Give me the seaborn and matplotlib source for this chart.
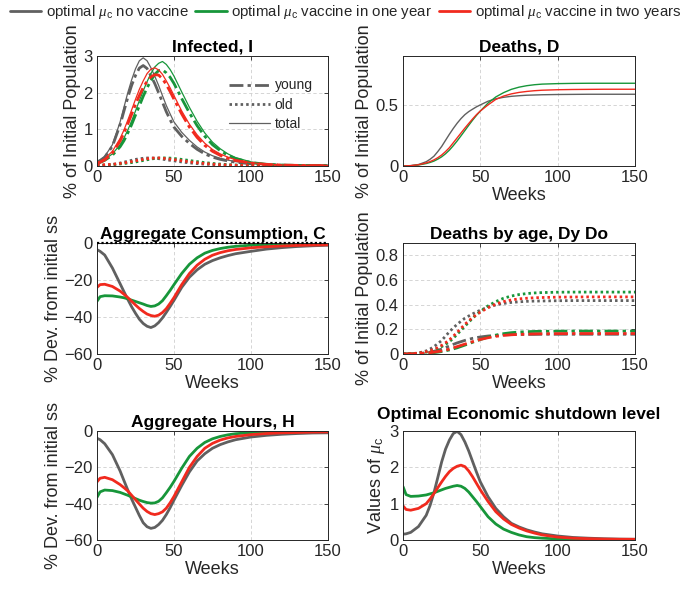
import matplotlib
matplotlib.use("Agg")
import matplotlib.pyplot as plt
import seaborn as sns
from matplotlib.lines import Line2D

# ---------------- data ----------------
WEEKS = [0, 2, 5, 10, 15, 17.5, 20, 22.5, 25, 27.5, 30, 32.5, 35, 37.5, 40, 42.5, 45, 47.5, 50,
         55, 60, 65, 70, 75, 80, 85, 90, 100, 110, 120, 130, 140, 150]

SCENARIOS = ["no vaccine", "vaccine in one year", "vaccine in two years"]

# Infected (% of initial population)
inf_total_none = [0.12, 0.16, 0.26, 0.58, 1.2, 1.6, 2.0, 2.35, 2.65, 2.87, 2.95, 2.87, 2.68, 2.45, 2.2, 1.92,
                  1.65, 1.42, 1.2, 0.92, 0.7, 0.52, 0.38, 0.28, 0.21, 0.16, 0.12, 0.07, 0.04, 0.025, 0.018,
                  0.012, 0.01]
inf_old_none = [0.01, 0.012, 0.02, 0.04, 0.08, 0.105, 0.13, 0.155, 0.18, 0.197, 0.21, 0.218, 0.22, 0.213,
                0.2, 0.186, 0.17, 0.155, 0.14, 0.11, 0.085, 0.065, 0.05, 0.038, 0.029, 0.022, 0.017, 0.01,
                0.006, 0.004, 0.003, 0.002, 0.002]
inf_young_none = [0.11, 0.15, 0.24, 0.54, 1.12, 1.5, 1.87, 2.2, 2.47, 2.67, 2.74, 2.66, 2.46, 2.25, 2.0,
                  1.74, 1.48, 1.26, 1.06, 0.81, 0.615, 0.455, 0.33, 0.242, 0.181, 0.138, 0.103, 0.06, 0.034,
                  0.021, 0.015, 0.01, 0.008]
inf_total_one = [0.1, 0.12, 0.18, 0.33, 0.58, 0.76, 0.98, 1.23, 1.5, 1.78, 2.05, 2.3, 2.52, 2.7, 2.8, 2.85,
                 2.77, 2.63, 2.45, 2.02, 1.6, 1.22, 0.9, 0.65, 0.47, 0.33, 0.23, 0.11, 0.055, 0.03, 0.02,
                 0.014, 0.01]
inf_old_one = [0.02, 0.02, 0.025, 0.035, 0.055, 0.067, 0.08, 0.094, 0.11, 0.13, 0.15, 0.17, 0.19, 0.205,
               0.215, 0.22, 0.22, 0.215, 0.205, 0.18, 0.15, 0.12, 0.093, 0.07, 0.052, 0.038, 0.028, 0.015,
               0.008, 0.005, 0.003, 0.002, 0.002]
inf_young_one = [0.08, 0.1, 0.155, 0.295, 0.525, 0.69, 0.9, 1.13, 1.39, 1.64, 1.9, 2.13, 2.33, 2.5, 2.6,
                 2.62, 2.54, 2.42, 2.25, 1.84, 1.45, 1.1, 0.81, 0.58, 0.42, 0.29, 0.2, 0.095, 0.047, 0.025,
                 0.017, 0.012, 0.008]
inf_total_two = [0.1, 0.13, 0.2, 0.4, 0.75, 0.98, 1.25, 1.53, 1.82, 2.09, 2.32, 2.52, 2.64, 2.68, 2.62, 2.5,
                 2.32, 2.13, 1.92, 1.5, 1.14, 0.85, 0.62, 0.45, 0.33, 0.24, 0.17, 0.09, 0.05, 0.03, 0.02,
                 0.014, 0.01]
inf_old_two = [0.03, 0.03, 0.035, 0.045, 0.07, 0.084, 0.1, 0.12, 0.14, 0.16, 0.18, 0.197, 0.21, 0.218, 0.22,
               0.212, 0.2, 0.188, 0.175, 0.145, 0.115, 0.09, 0.068, 0.05, 0.037, 0.027, 0.02, 0.011, 0.006,
               0.004, 0.003, 0.002, 0.002]
inf_young_two = [0.07, 0.1, 0.165, 0.355, 0.68, 0.9, 1.15, 1.41, 1.68, 1.92, 2.14, 2.31, 2.43, 2.49, 2.48,
                 2.38, 2.22, 2.03, 1.82, 1.42, 1.06, 0.78, 0.56, 0.4, 0.29, 0.21, 0.15, 0.08, 0.044, 0.026,
                 0.017, 0.012, 0.008]

# Deaths (% of initial population)
deaths_none = [0, 0.001, 0.003, 0.012, 0.035, 0.055, 0.08, 0.118, 0.16, 0.21, 0.26, 0.307, 0.35, 0.388,
               0.42, 0.445, 0.465, 0.484, 0.5, 0.53, 0.55, 0.562, 0.57, 0.575, 0.579, 0.581, 0.583, 0.585,
               0.586, 0.587, 0.587, 0.587, 0.587]
deaths_one = [0, 0.001, 0.002, 0.008, 0.02, 0.029, 0.04, 0.056, 0.075, 0.1, 0.13, 0.166, 0.205, 0.247,
              0.29, 0.333, 0.375, 0.414, 0.45, 0.515, 0.565, 0.6, 0.627, 0.645, 0.657, 0.665, 0.67, 0.674,
              0.676, 0.677, 0.677, 0.677, 0.677]
deaths_two = [0, 0.001, 0.003, 0.01, 0.025, 0.036, 0.05, 0.068, 0.09, 0.118, 0.15, 0.19, 0.23, 0.27, 0.31,
              0.348, 0.385, 0.42, 0.45, 0.5, 0.545, 0.572, 0.59, 0.602, 0.61, 0.616, 0.62, 0.624, 0.626,
              0.627, 0.628, 0.628, 0.628]

# Deaths by age (young = Dy, old = Do)
dy_none = [0, 0, 0.001, 0.004, 0.01, 0.015, 0.022, 0.03, 0.04, 0.052, 0.065, 0.078, 0.09, 0.1, 0.11, 0.119,
           0.127, 0.133, 0.138, 0.146, 0.151, 0.155, 0.157, 0.158, 0.159, 0.159, 0.16, 0.16, 0.16, 0.16,
           0.16, 0.16, 0.16]
do_none = [0, 0.001, 0.002, 0.008, 0.025, 0.04, 0.06, 0.083, 0.11, 0.145, 0.18, 0.212, 0.24, 0.266, 0.29,
           0.308, 0.325, 0.341, 0.355, 0.38, 0.398, 0.41, 0.418, 0.423, 0.427, 0.429, 0.43, 0.432, 0.433,
           0.433, 0.433, 0.433, 0.433]
dy_one = [0, 0, 0.001, 0.002, 0.005, 0.008, 0.011, 0.015, 0.02, 0.026, 0.033, 0.041, 0.05, 0.061, 0.072,
          0.083, 0.095, 0.106, 0.117, 0.137, 0.153, 0.165, 0.173, 0.178, 0.181, 0.183, 0.184, 0.185, 0.186,
          0.186, 0.186, 0.186, 0.186]
do_one = [0, 0.001, 0.002, 0.006, 0.015, 0.022, 0.032, 0.044, 0.06, 0.078, 0.1, 0.128, 0.16, 0.192, 0.225,
          0.258, 0.29, 0.319, 0.345, 0.39, 0.425, 0.452, 0.47, 0.482, 0.49, 0.495, 0.498, 0.501, 0.502,
          0.502, 0.502, 0.502, 0.502]
dy_two = [0, 0, 0.001, 0.003, 0.007, 0.011, 0.015, 0.02, 0.025, 0.032, 0.04, 0.05, 0.06, 0.07, 0.08, 0.09,
          0.1, 0.109, 0.118, 0.132, 0.143, 0.151, 0.156, 0.159, 0.161, 0.163, 0.164, 0.165, 0.166, 0.166,
          0.166, 0.166, 0.166]
do_two = [0, 0.001, 0.002, 0.007, 0.018, 0.027, 0.038, 0.052, 0.07, 0.091, 0.115, 0.144, 0.175, 0.208,
          0.24, 0.269, 0.295, 0.319, 0.34, 0.375, 0.405, 0.425, 0.438, 0.447, 0.452, 0.456, 0.458, 0.461,
          0.462, 0.463, 0.463, 0.463, 0.463]

# Aggregate consumption (% dev. from initial ss)
cons_none = [-3.6, -4.5, -6.5, -13.5, -22, -26.3, -30.5, -34.5, -38, -41.2, -43.5, -45, -45.7, -44.8, -43,
             -40.5, -37.5, -34.3, -31, -24, -18.5, -14.5, -11.5, -9.5, -8, -6.8, -5.8, -4.5, -3.3, -2.5,
             -1.9, -1.5, -1.2]
cons_one = [-31.5, -29, -28.5, -28.6, -29.2, -29.6, -30.2, -30.9, -31.6, -32.3, -33, -33.8, -34.3, -34.0,
            -33, -31.2, -28.5, -25.6, -22.5, -16.5, -11.5, -8, -5.5, -4, -3, -2.3, -1.8, -1.2, -0.9, -0.7,
            -0.6, -0.5, -0.5]
cons_two = [-24, -22.5, -22.3, -23.5, -26, -27.7, -29.5, -31.5, -33.5, -35.4, -37, -38.4, -39.2, -39.6,
            -39, -37.6, -35.5, -32.6, -29.5, -22.5, -16.5, -12, -8.8, -6.6, -5.2, -4.2, -3.5, -2.6, -2,
            -1.6, -1.3, -1.1, -1]

# Aggregate hours (% dev. from initial ss)
hours_none = [-4, -4.8, -7, -13, -22, -27.3, -32.5, -37.5, -42, -46.5, -50.5, -52.7, -53.6, -53.1, -51.5,
              -49.2, -46, -42.2, -38, -30, -22.5, -16.5, -12.5, -9.5, -7.5, -6, -4.8, -3.3, -2.4, -1.8,
              -1.4, -1.1, -1]
hours_one = [-36.5, -33.5, -32.5, -32.8, -33.8, -34.6, -35.4, -36.3, -37.2, -38.1, -38.8, -39.4, -39.7,
             -39.6, -38.7, -36.8, -34, -31, -27.7, -20.5, -14, -9.5, -6.3, -4.3, -3, -2.1, -1.5, -0.9,
             -0.6, -0.4, -0.3, -0.25, -0.2]
hours_two = [-28, -26, -25.5, -26.8, -29.5, -31.2, -33, -35.4, -37.8, -40.2, -42.5, -44.3, -45.5, -46,
             -45.5, -44.5, -42.5, -39.5, -36, -28, -20, -14, -9.5, -6.8, -5, -3.8, -3, -2, -1.4, -1, -0.8,
             -0.6, -0.5]

# Optimal mu_c
mu_none = [0.16, 0.17, 0.21, 0.37, 0.68, 0.95, 1.3, 1.72, 2.15, 2.5, 2.75, 2.93, 2.99, 2.9, 2.7, 2.45, 2.16,
           1.87, 1.6, 1.19, 0.87, 0.64, 0.46, 0.36, 0.28, 0.22, 0.17, 0.11, 0.07, 0.05, 0.035, 0.025, 0.02]
mu_one = [1.47, 1.25, 1.2, 1.21, 1.24, 1.27, 1.3, 1.34, 1.38, 1.42, 1.45, 1.48, 1.5, 1.48, 1.42, 1.32, 1.19,
          1.06, 0.92, 0.64, 0.44, 0.3, 0.21, 0.14, 0.09, 0.065, 0.05, 0.03, 0.02, 0.015, 0.01, 0.01, 0.01]
mu_two = [0.94, 0.84, 0.82, 0.87, 1.0, 1.13, 1.28, 1.44, 1.6, 1.75, 1.88, 1.97, 2.03, 2.06, 2.02, 1.9, 1.74,
          1.56, 1.38, 1.06, 0.78, 0.58, 0.43, 0.33, 0.25, 0.19, 0.14, 0.08, 0.05, 0.035, 0.025, 0.02, 0.02]

# ---------------- style ----------------
GRAY = "#606060"
GREEN = "#17963a"
RED = "#f12a1e"
COLORS = [GRAY, GREEN, RED]
TXT = "#262626"

sns.set_theme(style="whitegrid")
plt.rcParams["font.family"] = ["Liberation Sans", "DejaVu Sans"]
plt.rcParams["mathtext.fontset"] = "custom"
plt.rcParams["mathtext.rm"] = "Liberation Sans"
plt.rcParams["mathtext.it"] = "Liberation Serif:italic"

fig = plt.figure(figsize=(6.91, 5.91), dpi=100)

LX, RX = 97 / 691, 403 / 691
LW, RW = 231 / 691, 232 / 691
ROWS = [(1 - 166 / 591, 110 / 591), (1 - 354 / 591, 111 / 591), (1 - 540 / 591, 109 / 591)]

TICK_FS = 12
LABEL_FS = 13
TITLE_FS = 12.5


def make_ax(col, row):
    x0, w = (LX, LW) if col == 0 else (RX, RW)
    y0, h = ROWS[row]
    ax = fig.add_axes([x0, y0, w, h])
    ax.set_facecolor("white")
    for s in ax.spines.values():
        s.set_color(TXT)
        s.set_linewidth(0.7)
        s.set_visible(True)
    ax.grid(True, color="#cfcfcf", linestyle=(0, (4, 3)), linewidth=0.6)
    ax.tick_params(direction="in", length=3, width=0.6, colors=TXT, labelsize=TICK_FS,
                   top=True, right=True, pad=3)
    ax.set_xlim(0, 150)
    ax.set_xticks([0, 50, 100, 150])
    return ax


def line(ax, y, color, ls="-", lw=2.0):
    sns.lineplot(x=WEEKS, y=y, ax=ax, color=color, linestyle=ls, linewidth=lw, legend=False)


DASHDOT = (0, (5, 1.5, 1.2, 1.5))
DOT = (0, (0.9, 1.1))


def labels(ax, title, ylabel, xlabel=True, title_pad=3):
    ax.set_title(title, fontsize=TITLE_FS, fontweight="bold", color="black", pad=title_pad)
    ax.set_ylabel(ylabel, fontsize=LABEL_FS, color=TXT, labelpad=2)
    ax.set_xlabel("Weeks" if xlabel else "", fontsize=LABEL_FS, color=TXT, labelpad=1)


# Infected
ax = make_ax(0, 0)
for tot, yng, old, c in [(inf_total_none, inf_young_none, inf_old_none, GRAY),
                         (inf_total_one, inf_young_one, inf_old_one, GREEN),
                         (inf_total_two, inf_young_two, inf_old_two, RED)]:
    line(ax, yng, c, DASHDOT, 2.0)
    line(ax, old, c, DOT, 2.0)
    line(ax, tot, c, "-", 0.9)
ax.set_ylim(0, 3)
ax.set_yticks([0, 1, 2, 3])
labels(ax, "Infected, I", "% of Initial Population", xlabel=False)
h = [Line2D([], [], color=GRAY, ls=DASHDOT, lw=2.0),
     Line2D([], [], color=GRAY, ls=DOT, lw=2.0),
     Line2D([], [], color=GRAY, ls="-", lw=0.9)]
ax.legend(h, ["young", "old", "total"], loc="upper right", bbox_to_anchor=(0.975, 0.885),
          frameon=False, fontsize=10, handlelength=3.0, handletextpad=0.3, labelspacing=0.38,
          borderpad=0.2)

# Deaths
ax = make_ax(1, 0)
for y, c in zip([deaths_none, deaths_one, deaths_two], COLORS):
    line(ax, y, c, "-", 1.0)
ax.set_ylim(0, 0.9)
ax.set_yticks([0, 0.5])
ax.set_yticklabels(["0", "0.5"])
labels(ax, "Deaths, D", "% of Initial Population")

# Consumption
ax = make_ax(0, 1)
for y, c in zip([cons_none, cons_one, cons_two], COLORS):
    line(ax, y, c, "-", 2.0)
ax.axhline(0, color="black", linestyle=(0, (1, 1)), linewidth=1.6, zorder=5, clip_on=False)
ax.set_ylim(-60, 0)
ax.set_yticks([-60, -40, -20, 0])
labels(ax, "Aggregate Consumption, C", "% Dev. from initial ss")

# Deaths by age
ax = make_ax(1, 1)
for dy, do, c in [(dy_none, do_none, GRAY), (dy_one, do_one, GREEN), (dy_two, do_two, RED)]:
    line(ax, dy, c, DASHDOT, 2.0)
    line(ax, do, c, DOT, 2.0)
ax.set_ylim(0, 0.9)
ax.set_yticks([0, 0.2, 0.4, 0.6, 0.8])
ax.set_yticklabels(["0", "0.2", "0.4", "0.6", "0.8"])
labels(ax, "Deaths by age, Dy Do", "% of Initial Population")

# Hours
ax = make_ax(0, 2)
for y, c in zip([hours_none, hours_one, hours_two], COLORS):
    line(ax, y, c, "-", 2.0)
ax.set_ylim(-60, 0)
ax.set_yticks([-60, -40, -20, 0])
labels(ax, "Aggregate Hours, H", "% Dev. from initial ss")

# mu_c
ax = make_ax(1, 2)
for y, c in zip([mu_none, mu_one, mu_two], COLORS):
    line(ax, y, c, "-", 2.0)
ax.set_ylim(0, 3)
ax.set_yticks([0, 1, 2, 3])
labels(ax, "Optimal Economic shutdown level", r"Values of $\mu_{\rm c}$", title_pad=9)

# Figure legend
fh = [Line2D([], [], color=c, lw=2.0) for c in COLORS]
fig.legend(fh, [r"optimal $\mu_{\rm c}$ " + s for s in SCENARIOS], loc="upper center",
           bbox_to_anchor=(0.5, 1.01), ncol=3, frameon=False, fontsize=10.8,
           handlelength=2.1, handletextpad=0.3, columnspacing=0.45, borderaxespad=0.2)

fig.savefig("out.png", dpi=100)
